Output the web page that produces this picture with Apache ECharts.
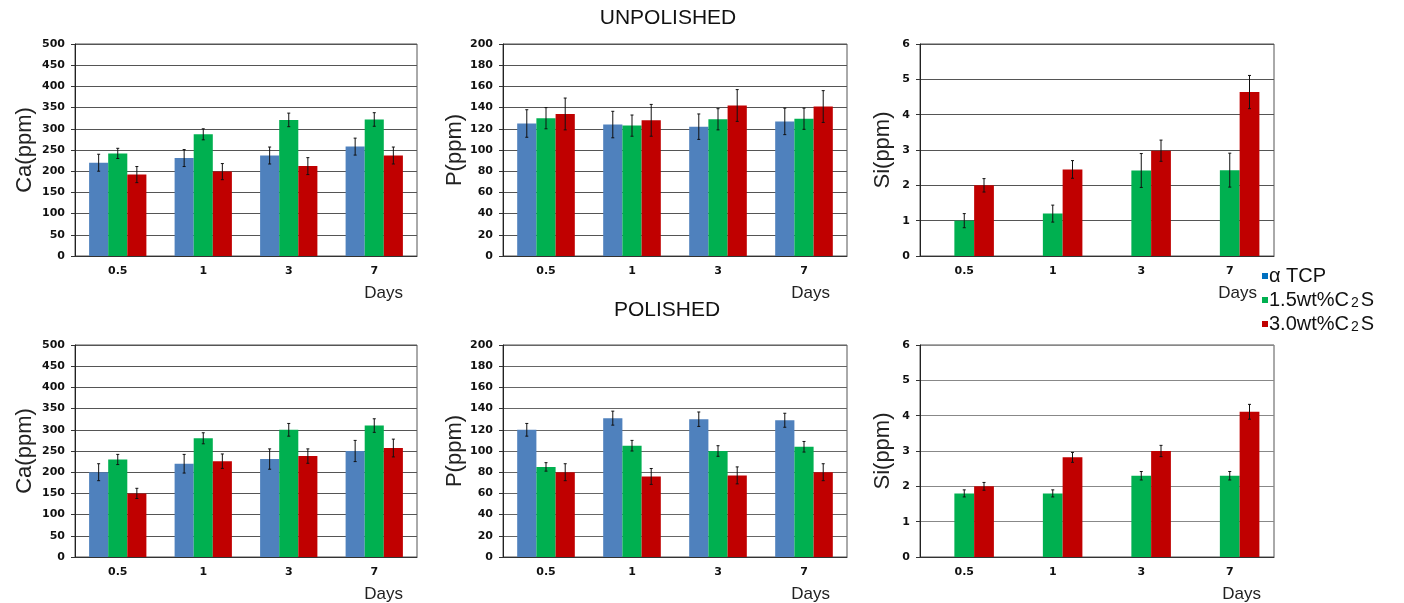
<!DOCTYPE html>
<html>
<head>
<meta charset="utf-8">
<script src="https://cdn.jsdelivr.net/npm/echarts@6/dist/echarts.min.js"></script>
<style>
  html, body { margin: 0; padding: 0; background: #fff; }
  #main { width: 1404px; height: 603px; }
</style>
</head>
<body>
<div id="main"></div>
<script>
const days = ['0.5', '1', '3', '7'];
const seriesNames = ['α TCP', '1.5wt%C2S', '3.0wt%C2S'];

// unpolished
const caTcpU = [220, 231, 237, 258];
const caTcpUErr = [20, 20, 20, 20];
const ca15U = [242, 287, 321, 322];
const ca15UErr = [12, 13, 16, 16];
const ca30U = [192, 199, 212, 237];
const ca30UErr = [19, 19, 20, 20];

const pTcpU = [125, 124, 122, 127];
const pTcpUErr = [13, 12.5, 12, 12.5];
const p15U = [130, 123, 129, 129.5];
const p15UErr = [10, 10, 10, 10];
const p30U = [134, 128, 142, 141];
const p30UErr = [15, 15, 15, 15];

const siTcpU = [null, null, null, null];
const si15U = [1.0, 1.2, 2.42, 2.43];
const si15UErr = [0.2, 0.24, 0.48, 0.48];
const si30U = [2.0, 2.45, 2.98, 4.64];
const si30UErr = [0.19, 0.25, 0.3, 0.47];

// polished
const caTcpP = [200, 220, 231, 250];
const caTcpPErr = [20, 22, 24, 25];
const ca15P = [230, 280, 300, 310];
const ca15PErr = [12, 13, 15, 16];
const ca30P = [150, 226, 238, 257];
const ca30PErr = [12, 17, 17, 21];

const pTcpP = [120, 131, 130, 129];
const pTcpPErr = [6, 6.6, 6.8, 6.6];
const p15P = [85, 105, 100, 104];
const p15PErr = [4, 5, 5, 5];
const p30P = [80, 76, 77, 80];
const p30PErr = [8, 7.5, 8, 8];

const siTcpP = [null, null, null, null];
const si15P = [1.8, 1.8, 2.3, 2.3];
const si15PErr = [0.1, 0.1, 0.12, 0.12];
const si30P = [2.0, 2.82, 3.0, 4.11];
const si30PErr = [0.11, 0.14, 0.16, 0.21];

const colorList = ['#4F81BD', '#00B050', '#C00000'];
const catGap = 0.33;

const panels = [
  { grid: { left: 75, top: 44, width: 342, height: 212 }, max: 500, interval: 50, name: 'Ca(ppm)', gap: 39, daysRight: 403,
    vals: [caTcpU, ca15U, ca30U], errs: [caTcpUErr, ca15UErr, ca30UErr], line: '#555' },
  { grid: { left: 503, top: 44, width: 344, height: 212 }, max: 200, interval: 20, name: 'P(ppm)', gap: 37, daysRight: 830,
    vals: [pTcpU, p15U, p30U], errs: [pTcpUErr, p15UErr, p30UErr], line: '#555' },
  { grid: { left: 920, top: 44, width: 354, height: 212 }, max: 6, interval: 1, name: 'Si(ppm)', gap: 26, daysRight: 1257,
    vals: [siTcpU, si15U, si30U], errs: [null, si15UErr, si30UErr], line: '#555' },
  { grid: { left: 75, top: 345, width: 342, height: 212 }, max: 500, interval: 50, name: 'Ca(ppm)', gap: 39, daysRight: 403,
    vals: [caTcpP, ca15P, ca30P], errs: [caTcpPErr, ca15PErr, ca30PErr], line: '#555' },
  { grid: { left: 503, top: 345, width: 344, height: 212 }, max: 200, interval: 20, name: 'P(ppm)', gap: 37, daysRight: 830,
    vals: [pTcpP, p15P, p30P], errs: [pTcpPErr, p15PErr, p30PErr], line: '#666' },
  { grid: { left: 920, top: 345, width: 354, height: 212 }, max: 6, interval: 1, name: 'Si(ppm)', gap: 26, daysRight: 1261,
    vals: [siTcpP, si15P, si30P], errs: [null, si15PErr, si30PErr], line: '#888' }
];

// error bar drawn over the k-th bar of a group
function renderErr(params, api) {
  const cat = api.value(0), val = api.value(1), err = api.value(2), k = api.value(3);
  const band = api.size([1, 0])[0];
  const bw = band * (1 - catGap) / 3;
  const x = api.coord([cat, val])[0] + (k - 1) * bw;
  const yTop = api.coord([cat, val + err])[1];
  const yBot = api.coord([cat, val - err])[1];
  const style = { stroke: '#111', lineWidth: 1 };
  return {
    type: 'group',
    children: [
      { type: 'line', shape: { x1: x, y1: yTop, x2: x, y2: yBot }, style: style },
      { type: 'line', shape: { x1: x - 1.5, y1: yTop, x2: x + 1.5, y2: yTop }, style: style },
      { type: 'line', shape: { x1: x - 1.5, y1: yBot, x2: x + 1.5, y2: yBot }, style: style }
    ]
  };
}

const grids = [], xAxes = [], yAxes = [], series = [], titles = [];

panels.forEach(function (p, idx) {
  grids.push(Object.assign({ show: true, borderColor: '#555', borderWidth: 1 }, p.grid));
  xAxes.push({
    type: 'category',
    gridIndex: idx,
    data: days,
    axisLine: { lineStyle: { color: '#333' } },
    axisTick: { length: 5, lineStyle: { color: '#333' } },
    axisLabel: { color: '#111', fontSize: 11, fontWeight: 'bold', fontFamily: 'DejaVu Sans', margin: 10 }
  });
  yAxes.push({
    type: 'value',
    gridIndex: idx,
    min: 0,
    max: p.max,
    interval: p.interval,
    name: p.name,
    nameLocation: 'middle',
    nameGap: p.gap,
    nameTextStyle: { fontSize: 22, color: '#222', fontFamily: 'Liberation Sans' },
    axisLine: { show: true, lineStyle: { color: '#222' } },
    axisTick: { show: true, length: 4, lineStyle: { color: '#333' } },
    axisLabel: { color: '#111', fontSize: 11, fontWeight: 'bold', fontFamily: 'DejaVu Sans', margin: 10 },
    splitLine: { lineStyle: { color: p.line, width: 1 } }
  });
  const errData = [];
  for (let k = 0; k < 3; k++) {
    series.push({
      name: seriesNames[k],
      type: 'bar',
      xAxisIndex: idx,
      yAxisIndex: idx,
      data: p.vals[k],
      barGap: '0%',
      barCategoryGap: '33%',
      itemStyle: { color: colorList[k] }
    });
    if (p.errs[k]) {
      p.vals[k].forEach(function (v, i) {
        if (v != null) errData.push([i, v, p.errs[k][i], k]);
      });
    }
  }
  series.push({
    type: 'custom',
    xAxisIndex: idx,
    yAxisIndex: idx,
    renderItem: renderErr,
    encode: { x: 0, y: 1 },
    data: errData,
    z: 5,
    silent: true
  });
  // "Days" under each x axis
  titles.push({
    text: 'Days',
    left: p.daysRight,
    top: p.grid.top + p.grid.height + 29,
    textAlign: 'right',
    padding: 0,
    textStyle: { fontSize: 17, fontWeight: 'normal', color: '#222', fontFamily: 'Liberation Sans' }
  });
});

titles.push({
  text: 'UNPOLISHED', left: 668, top: 8, textAlign: 'center', padding: 0,
  textStyle: { fontSize: 21, fontWeight: 'normal', color: '#111', fontFamily: 'Liberation Sans' }
});
titles.push({
  text: 'POLISHED', left: 667, top: 300, textAlign: 'center', padding: 0,
  textStyle: { fontSize: 21, fontWeight: 'normal', color: '#111', fontFamily: 'Liberation Sans' }
});

const chartDom = document.getElementById('main');
const myChart = echarts.init(chartDom);
let option;

option = {
  backgroundColor: '#fff',
  animation: false,
  color: colorList,
  title: titles,
  legend: {
    data: [
      { name: seriesNames[0], itemStyle: { color: '#0070C0' } },
      { name: seriesNames[1] },
      { name: seriesNames[2] }
    ],
    orient: 'vertical',
    left: 1262,
    top: 266,
    icon: 'rect',
    itemWidth: 6,
    itemHeight: 6,
    itemGap: 4,
    padding: 0,
    formatter: function (name) {
      return name.replace('C2S', 'C{s|2}S');
    },
    textStyle: {
      fontSize: 20,
      color: '#111',
      fontFamily: 'Liberation Sans',
      padding: [0, 0, 0, -4],
      rich: {
        s: { fontSize: 14, verticalAlign: 'bottom', padding: [0, 2, 0, 2], fontFamily: 'Liberation Sans', color: '#111' }
      }
    }
  },
  grid: grids,
  xAxis: xAxes,
  yAxis: yAxes,
  series: series
};

option && myChart.setOption(option);
</script>
</body>
</html>
